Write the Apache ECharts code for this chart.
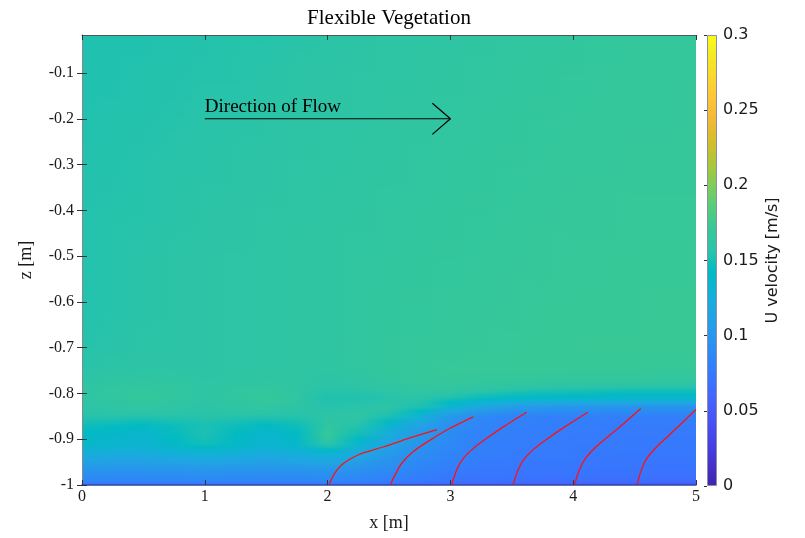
<!DOCTYPE html>
<html><head><meta charset="utf-8">
<script src="https://cdn.jsdelivr.net/npm/echarts@6/dist/echarts.min.js"></script>
<style>html,body{margin:0;padding:0;background:#fff}#c{width:805px;height:538px}</style>
</head><body><div id="c"></div>
<script>
// ---------- data ----------
const X_COLS = [0,0.25,0.5,0.75,1,1.25,1.5,1.75,2,2.25,2.5,2.75,3,3.25,3.5,3.75,4,4.25,4.5,4.75,5];
const Z_LEVELS = [-1.0,-0.99,-0.97,-0.95,-0.93,-0.91,-0.89,-0.87,-0.85,-0.83,-0.81,-0.79,-0.77,-0.74,-0.70,-0.60,-0.50,-0.40,-0.30,-0.20,-0.10,-0.017];
// U velocity [m/s] per z level, one value per X_COLS entry
const U_Z100 = [.072,.072,.072,.072,.072,.072,.072,.072,.072,.070,.066,.062,.058,.055,.053,.052,.051,.050,.050,.049,.049];
const U_Z099 = [.085,.085,.085,.085,.086,.085,.085,.085,.086,.084,.080,.076,.072,.070,.069,.068,.068,.067,.067,.066,.066];
const U_Z097 = [.097,.096,.096,.097,.098,.097,.096,.097,.098,.094,.088,.082,.077,.074,.073,.072,.072,.071,.071,.070,.070];
const U_Z095 = [.112,.110,.110,.112,.114,.112,.110,.112,.115,.106,.096,.088,.081,.077,.075,.074,.074,.073,.073,.072,.072];
const U_Z093 = [.127,.124,.124,.128,.132,.128,.124,.127,.135,.120,.104,.093,.084,.079,.077,.076,.075,.075,.074,.074,.074];
const U_Z091 = [.139,.136,.135,.141,.148,.141,.135,.139,.158,.136,.113,.098,.087,.081,.078,.077,.076,.076,.075,.075,.075];
const U_Z089 = [.142,.137,.134,.144,.152,.143,.134,.142,.170,.148,.122,.103,.089,.082,.079,.078,.077,.076,.076,.076,.076];
const U_Z087 = [.147,.145,.143,.147,.151,.147,.143,.147,.162,.155,.135,.112,.093,.084,.080,.079,.078,.077,.077,.077,.077];
const U_Z085 = [.155,.155,.154,.155,.156,.155,.154,.155,.158,.160,.152,.130,.102,.088,.083,.081,.080,.080,.079,.079,.079];
const U_Z083 = [.158,.160,.163,.160,.157,.160,.163,.158,.155,.157,.158,.152,.132,.116,.106,.102,.100,.099,.098,.098,.098];
const U_Z081 = [.160,.163,.168,.164,.160,.164,.168,.162,.153,.153,.155,.157,.152,.146,.142,.140,.139,.138,.137,.137,.137];
const U_Z079 = [.160,.163,.166,.164,.160,.163,.166,.162,.156,.157,.160,.163,.163,.160,.157,.155,.154,.153,.152,.152,.152];
const U_Z077 = [.158,.160,.162,.161,.159,.160,.162,.161,.158,.161,.165,.168,.169,.168,.167,.167,.166,.166,.166,.165,.165];
const U_Z074 = [.156,.157,.158,.158,.158,.159,.160,.161,.160,.163,.166,.168,.170,.171,.171,.171,.171,.171,.171,.171,.171];
const U_Z070 = [.155,.156,.157,.157,.158,.159,.160,.161,.162,.164,.166,.167,.168,.169,.170,.171,.171,.172,.172,.172,.172];
const U_Z060 = [.154,.155,.156,.157,.158,.159,.160,.161,.162,.163,.165,.166,.167,.168,.169,.170,.171,.171,.171,.172,.172];
const U_Z050 = [.154,.155,.156,.157,.158,.159,.160,.161,.162,.163,.164,.165,.166,.167,.168,.169,.170,.170,.171,.171,.171];
const U_Z040 = [.154,.155,.155,.156,.157,.158,.159,.160,.161,.162,.163,.164,.165,.166,.167,.168,.169,.169,.170,.170,.170];
const U_Z030 = [.154,.154,.155,.156,.156,.157,.158,.159,.160,.161,.162,.163,.164,.165,.166,.167,.168,.168,.169,.169,.169];
const U_Z020 = [.153,.154,.154,.155,.156,.156,.157,.158,.159,.160,.161,.162,.163,.164,.165,.166,.167,.167,.168,.168,.169];
const U_Z010 = [.153,.153,.154,.154,.155,.155,.156,.157,.158,.159,.160,.161,.162,.163,.164,.165,.166,.167,.167,.168,.168];
const U_Z002 = [.153,.153,.153,.154,.154,.155,.155,.156,.157,.158,.159,.160,.161,.162,.163,.164,.165,.166,.167,.168,.168];
const U_ROWS = [U_Z100,U_Z099,U_Z097,U_Z095,U_Z093,U_Z091,U_Z089,U_Z087,U_Z085,U_Z083,U_Z081,U_Z079,U_Z077,U_Z074,U_Z070,U_Z060,U_Z050,U_Z040,U_Z030,U_Z020,U_Z010,U_Z002];

// vegetation blades [x, z]
const BLADE_1 = [[2.011,-1],[2.036,-0.985],[2.077,-0.967],[2.134,-0.952],[2.199,-0.941],[2.280,-0.931],[2.451,-0.917],[2.671,-0.897],[2.891,-0.879]];
const BLADE_2 = [[2.51,-1],[2.549,-0.978],[2.603,-0.953],[2.698,-0.927],[2.834,-0.902],[2.997,-0.876],[3.187,-0.851]];
const BLADE_3 = [[3.011,-1],[3.051,-0.967],[3.105,-0.942],[3.187,-0.920],[3.296,-0.898],[3.431,-0.873],[3.621,-0.841]];
const BLADE_4 = [[3.51,-1],[3.551,-0.967],[3.605,-0.942],[3.687,-0.920],[3.796,-0.898],[3.931,-0.873],[4.12,-0.841]];
const BLADE_5 = [[4.01,-1],[4.05,-0.967],[4.10,-0.942],[4.18,-0.918],[4.285,-0.894],[4.41,-0.866],[4.55,-0.833]];
const BLADE_6 = [[4.52,-1],[4.555,-0.967],[4.60,-0.942],[4.675,-0.918],[4.77,-0.894],[4.88,-0.866],[5.0,-0.835]];
const BLADES = [BLADE_1,BLADE_2,BLADE_3,BLADE_4,BLADE_5,BLADE_6];

// annotation
const FLOW_TEXT = 'Direction of Flow';
const FLOW_SHAFT = [[1,-0.2],[3,-0.2]];
const FLOW_HEAD = [[2.853,-0.166],[3,-0.2],[2.853,-0.234]];

// ticks
const X_TICKS = [0,1,2,3,4,5];
const Z_TICKS = [-1,-0.9,-0.8,-0.7,-0.6,-0.5,-0.4,-0.3,-0.2,-0.1];
const CBAR_TICKS = [0,0.05,0.1,0.15,0.2,0.25,0.3];
const U_MIN = 0, U_MAX = 0.3;

// ---------- style ----------
const PARULA = ['#3e26a8','#4432cb','#4741e5','#4852f4','#4563fd','#3875fe','#2e87f7','#2796eb','#20a5e3','#12b1d6','#02bac3',
                '#2cc4a7','#37c897','#57cc7a','#81cc59','#abc739','#d1bf27','#f0ba36','#fec338','#fad62d','#f5e924','#f9fb15'];
const SERIF = '"Liberation Serif", "DejaVu Serif", serif';
const SANS = '"DejaVu Sans", sans-serif';
function uColor(v){ return echarts.color.lerp(Math.max(0,Math.min(1,(v-U_MIN)/(U_MAX-U_MIN))), PARULA); }

const chart = echarts.init(document.getElementById('c'), null, {renderer:'canvas'});

// each band between two z levels is painted pixel row by pixel row (shaded like MATLAB "interp")
function fieldRender(params, api){
  const i = api.value(2);
  const z0 = Z_LEVELS[i], z1 = Z_LEVELS[i+1];
  const r0 = U_ROWS[i], r1 = U_ROWS[i+1];
  const xs0 = X_COLS[0], xs1 = X_COLS[X_COLS.length-1];
  const pA = api.coord([xs0, z0]), pB = api.coord([xs1, z1]);
  const yb = pA[1], yt = pB[1];
  const xl = Math.round(pA[0]), xr = Math.round(pB[0]);
  const yStart = Math.round(yt), yEnd = Math.round(yb);
  const children = [];
  for (let y=yStart; y<yEnd; y++){
    const t = Math.max(0, Math.min(1, (yb - (y+0.5)) / (yb - yt)));
    const stops = X_COLS.map((x,k)=>({offset:(x-xs0)/(xs1-xs0), color:uColor(r0[k]*(1-t)+r1[k]*t)}));
    children.push({type:'rect', shape:{x:xl, y:y, width:xr-xl, height:1},
      style:{fill:new echarts.graphic.LinearGradient(0,0,1,0,stops)}, silent:true});
  }
  return {type:'group', children};
}

function cbarRender(params, api){
  const a = api.coord([0, U_MIN]), b = api.coord([1, U_MAX]);
  const stops = PARULA.map((c,k)=>({offset:k/(PARULA.length-1), color:c}));
  return {type:'rect', shape:{x:a[0]+0.5, y:b[1]+0.5, width:b[0]-a[0]-1, height:a[1]-b[1]-1},
    style:{fill:new echarts.graphic.LinearGradient(0,1,0,0,stops), stroke:'#8e8eb0', lineWidth:1}};
}

function flowTextRender(params, api){
  const p = api.coord([api.value(0), api.value(1)]);
  return {type:'text', x:p[0], y:p[1]-2,
    style:{text:FLOW_TEXT, fontFamily:SERIF, fontSize:19, fill:'#000', align:'left', verticalAlign:'bottom'}};
}

const axisTxt = {fontFamily:SERIF, fontSize:16, color:'#1a1a1a'};
const series = [
  {type:'custom', xAxisIndex:0, yAxisIndex:0, renderItem:fieldRender, clip:true, z:1,
   data: Z_LEVELS.slice(0,-1).map((z,i)=>[X_COLS[0], z, i]), silent:true},
  ...BLADES.map(b=>({type:'line', xAxisIndex:0, yAxisIndex:0, data:b, smooth:0.3, symbol:'none',
     lineStyle:{color:'#ff1010', width:1.3}, z:3, silent:true})),
  {type:'line', xAxisIndex:0, yAxisIndex:0, data:FLOW_SHAFT, symbol:'none', lineStyle:{color:'#000', width:1.2}, z:4, silent:true},
  {type:'line', xAxisIndex:0, yAxisIndex:0, data:FLOW_HEAD, symbol:'none', lineStyle:{color:'#000', width:1.2}, z:4, silent:true},
  {type:'custom', xAxisIndex:0, yAxisIndex:0, renderItem:flowTextRender, data:[FLOW_SHAFT[0]], z:5, silent:true},
  {type:'custom', xAxisIndex:2, yAxisIndex:2, renderItem:cbarRender, data:[[0,U_MIN]], silent:true, z:1}
];

chart.setOption({
  animation:false,
  backgroundColor:'#fff',
  title:{text:'Flexible Vegetation', left:389, top:8, textAlign:'center', padding:0,
         textStyle:{fontFamily:SERIF, fontSize:21, fontWeight:'normal', color:'#000'}},
  grid:[{left:82, top:35, width:614, height:450, containLabel:false},
        {left:707, top:35, width:10, height:451, containLabel:false}],
  xAxis:[
    {gridIndex:0, type:'value', position:'bottom', min:0, max:5, interval:1, z:10,
     axisLine:{show:true, lineStyle:{color:'#2f45a8', width:1.5}},
     axisTick:{show:true, inside:true, length:5, customValues:X_TICKS, lineStyle:{color:'#333'}},
     axisLabel:{show:true, customValues:X_TICKS, margin:4, ...axisTxt},
     splitLine:{show:false},
     name:'x [m]', nameLocation:'middle', nameGap:29, nameTextStyle:{fontFamily:SERIF, fontSize:18, color:'#1a1a1a'}},
    {gridIndex:0, type:'value', position:'top', min:0, max:5, interval:1, z:10,
     axisLine:{show:true, lineStyle:{color:'#555', width:1}},
     axisTick:{show:true, inside:true, length:5, customValues:X_TICKS, lineStyle:{color:'#333'}},
     axisLabel:{show:false}, splitLine:{show:false}},
    {gridIndex:1, type:'value', min:0, max:1, show:false}
  ],
  yAxis:[
    {gridIndex:0, type:'value', position:'left', min:-1, max:-0.017, z:10,
     axisLine:{show:true, lineStyle:{color:'#e8a0a0', width:1}},
     axisTick:{show:true, inside:true, length:5, customValues:Z_TICKS, lineStyle:{color:'#333'}},
     axisLabel:{show:true, customValues:Z_TICKS, margin:8, ...axisTxt},
     splitLine:{show:false},
     name:'z [m]', nameLocation:'middle', nameGap:47, nameRotate:90,
     nameTextStyle:{fontFamily:SERIF, fontSize:18, color:'#1a1a1a'}},
    {gridIndex:0, type:'value', position:'right', min:-1, max:-0.017, z:10,
     axisLine:{show:true, lineStyle:{color:'#888', width:1}},
     axisTick:{show:true, inside:true, length:5, customValues:Z_TICKS, lineStyle:{color:'#333'}},
     axisLabel:{show:false}, splitLine:{show:false}},
    {gridIndex:1, type:'value', position:'right', min:U_MIN, max:U_MAX, z:10,
     axisLine:{show:false},
     axisTick:{show:true, inside:true, length:3, customValues:CBAR_TICKS, lineStyle:{color:'#333'}},
     axisLabel:{show:true, customValues:CBAR_TICKS, margin:6, padding:[5,0,0,0], fontFamily:SANS, fontSize:16, color:'#1a1a1a'},
     splitLine:{show:false},
     name:'U velocity [m/s]', nameLocation:'middle', nameGap:48, nameRotate:90,
     nameTextStyle:{fontFamily:SANS, fontSize:16, color:'#1a1a1a'}}
  ],
  series
});
</script></body></html>
